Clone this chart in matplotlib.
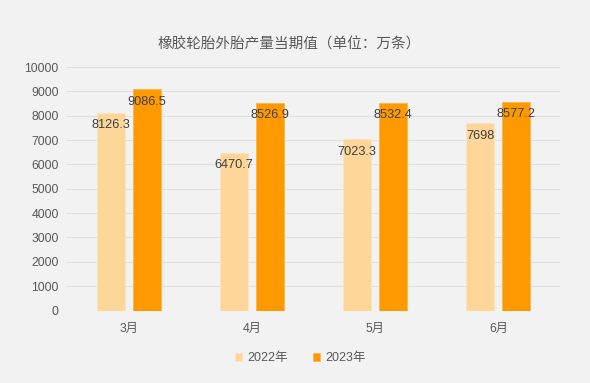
import matplotlib
matplotlib.use("Agg")
import matplotlib.pyplot as plt
import numpy as np

categories = ["3月", "4月", "5月", "6月"]
series_names = ["2022年", "2023年"]
values_2022 = [8126.3, 6470.7, 7023.3, 7698]
values_2023 = [9086.5, 8526.9, 8532.4, 8577.2]
yticks = list(range(0, 10001, 1000))
title = "橡胶轮胎外胎产量当期值（单位：万条）"

plt.rcParams['font.family'] = ['Liberation Sans', 'Noto Sans CJK SC', 'DejaVu Sans']

bg = "#f2f2f2"
fig = plt.figure(figsize=(5.9, 3.83), dpi=100, facecolor=bg)
ax = fig.add_axes([67/590, 1-310.5/383, (560-67)/590, (310.5-67)/383])
ax.set_facecolor(bg)

x = np.arange(len(categories))
w = 0.227
off = 0.146
colors = ["#FFD699", "#FF9900"]
b1 = ax.bar(x - off, values_2022, w, color=colors[0], edgecolor="#fbe3bd", linewidth=0.6, label=series_names[0], zorder=3)
b2 = ax.bar(x + off, values_2023, w, color=colors[1], edgecolor="#fbb54f", linewidth=0.6, label=series_names[1], zorder=3)

for bars, vals in ((b1, values_2022), (b2, values_2023)):
    for rect, v in zip(bars, vals):
        ax.annotate(f"{v:g}", (rect.get_x() + rect.get_width()/2, v), xytext=(0, -9),
                    textcoords="offset points", ha="center", va="center",
                    fontsize=9.2, color="#404040", zorder=5)

ax.set_xlim(-0.5, len(categories) - 0.5)
ax.set_ylim(0, 10000)
ax.set_yticks(yticks)
ax.set_yticklabels([str(t) for t in yticks])
ax.set_xticks(x)
ax.set_xticklabels(categories)
ax.tick_params(axis="both", length=0, labelsize=8.8, colors="#595959")
ax.tick_params(axis="y", pad=6)
ax.tick_params(axis="x", pad=9)
ax.grid(axis="y", color="#e0e0e0", linewidth=0.8, zorder=0)
for s in ax.spines.values():
    s.set_visible(False)

fig.text(289/590, 1-45/383, title, ha="center", va="center", fontsize=10.5, color="#595959")

fig.legend(handles=[b1, b2], labels=series_names, loc="center", bbox_to_anchor=(300/590, 1-358/383),
           ncol=2, frameon=False, fontsize=9, handlelength=0.6, handleheight=0.6,
           handletextpad=0.4, columnspacing=2.0, labelcolor="#595959")

fig.savefig("out.png", dpi=100, facecolor=bg)
